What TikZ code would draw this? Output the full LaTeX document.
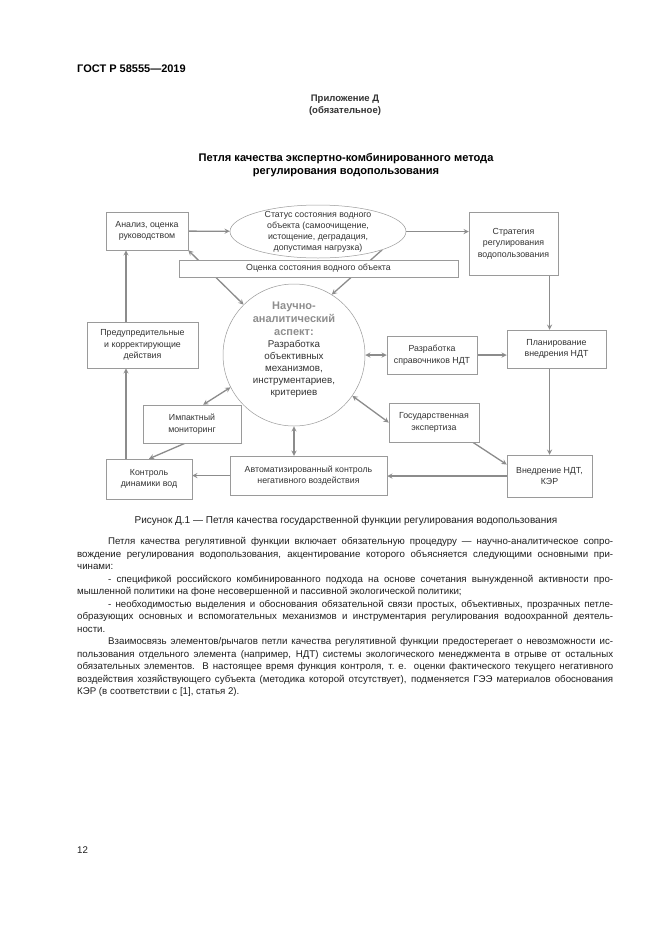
\documentclass[tikz,border=0pt]{standalone}
\usepackage{fontspec}
\setmainfont{Liberation Sans}
\usetikzlibrary{positioning,shapes.geometric,backgrounds}

\definecolor{linegray}{HTML}{9A9A9A}
\definecolor{arrowgray}{HTML}{8C8C8C}
\definecolor{inkgray}{HTML}{333333}
\definecolor{headgray}{HTML}{8E8E8E}

\newcommand{\fs}[2]{\fontsize{#1}{#2}\selectfont}
\newcommand{\jl}[1]{\makebox[536pt][s]{#1}}
\newcommand{\ind}{\hspace*{31pt}}
\newcommand{\hd}[1]{{\color{headgray}\bfseries\fs{11}{13}#1}}

\begin{document}
\begin{tikzpicture}[x=1pt, y=-1pt,
  every node/.style={inner sep=0pt, text=inkgray},
  box/.style={draw=linegray, line width=0.5pt, fill=white, align=center, font=\fs{8.8}{11.5}},
  flow/.style={->, line width=1.3pt, draw=arrowgray, >=stealth},
  both/.style={<->, line width=1.3pt, draw=arrowgray, >=stealth},
  page/.style={font=\fs{9.7}{12.5}, text=black!88}
]
\useasboundingbox (0,0) rectangle (661,935);

% page head
\node[anchor=base west, font=\bfseries\fs{11}{13}, text=black] (gost) at (77,72.5) {ГОСТ Р 58555—2019};
\node[anchor=base, font=\bfseries\fs{9.5}{12}] (app) at (345,101.5) {Приложение Д};
\node[anchor=base, font=\bfseries\fs{9.5}{12}] (appnote) at (345,113.5) {(обязательное)};
\node[anchor=base, font=\bfseries\fs{11.1}{13}, text=black] (title1) at (346,161.5) {Петля качества экспертно-комбинированного метода};
\node[anchor=base, font=\bfseries\fs{11.1}{13}, text=black] (title2) at (346,174.5) {регулирования водопользования};

% loop
\node[box, minimum width=82pt, minimum height=38pt] (anal) at (147,231) {Анализ, оценка\\руководством};
\node[box, ellipse, minimum width=176pt, minimum height=53pt,
  label={[align=center, font=\fs{8.8}{11}]center:{Статус состояния водного\\объекта (самоочищение,\\истощение, деградация,\\допустимая нагрузка)}}] (status) at (318,231.5) {};
\node[box, minimum width=89pt, minimum height=63pt] (strat) at (513.5,243.5) {Стратегия\\регулирования\\водопользования};
\node[box, minimum width=279pt, minimum height=17pt] (ocenka) at (318.5,268.5) {Оценка состояния водного объекта};
\node[box, circle, minimum size=142pt,
  label={[align=center, font=\fs{9.8}{12}, yshift=5pt]center:{\hd{Научно-}\\[1pt]\hd{аналитический}\\[1pt]\hd{аспект:}\\Разработка\\объективных\\механизмов,\\инструментариев,\\критериев}}] (aspect) at (294,355) {};
\node[box, minimum width=111pt, minimum height=46pt] (prev) at (142.5,345) {Предупредительные\\и корректирующие\\действия};
\node[box, minimum width=90pt, minimum height=38pt] (razr) at (432,355) {Разработка\\справочников НДТ};
\node[box, minimum width=99pt, minimum height=38pt] (plan) at (556.5,349) {Планирование\\внедрения НДТ};
\node[box, minimum width=98pt, minimum height=38pt] (imp) at (192,424) {Импактный\\мониторинг};
\node[box, minimum width=90pt, minimum height=39pt] (gos) at (434,422.5) {Государственная\\экспертиза};
\node[box, minimum width=86pt, minimum height=40pt] (kontr) at (149,479) {Контроль\\динамики вод};
\node[box, minimum width=157pt, minimum height=39pt] (avto) at (308.5,475.5) {Автоматизированный контроль\\негативного воздействия};
\node[box, minimum width=85pt, minimum height=42pt] (vnedr) at (549.5,476) {Внедрение НДТ,\\КЭР};
\coordinate (kup) at (126,459);

\begin{scope}[on background layer]
\fill[white] (0,0) rectangle (661,935);
\draw[flow] (anal) -- (status);
\draw[flow] (status.east) -- (status.east -| strat.west);
\draw[flow] (strat.south -| vnedr.north) -- (plan.north -| vnedr.north);
\draw[flow] (plan.south -| vnedr.north) -- (vnedr.north);
\draw[flow] (razr.east) -- (razr.east -| plan.west);
\draw[both] (aspect.east) -- (razr.west);
\draw[flow] (gos.-27) -- (vnedr.165);
\draw[both] (aspect.-35) -- (gos.west);
\draw[flow] (vnedr.west) -- (vnedr.west -| avto.east);
\draw[both] (aspect.south) -- (aspect.south |- avto.north);
\draw[flow] (avto.west) -- (avto.west -| kontr.east);
\draw[flow] (imp.-110) -- (kontr.north);
\draw[both] (aspect.207) -- (imp.60);
\draw[flow] (kup) -- (kup |- prev.south);
\draw[flow] (kup |- prev.north) -- (kup |- anal.south);
\draw[both] (anal.south east) -- (aspect.135);
\draw[flow] (status.-16) -- (aspect.58);
\end{scope}

% caption and text
\node[anchor=base, page, font=\fs{10}{12}] (caption) at (346,523.5) {Рисунок Д.1 — Петля качества государственной функции регулирования водопользования};
\node[anchor=north west, align=left, page] (body) at (77,537.4) {%
\jl{\ind Петля качества регулятивной функции включает обязательную процедуру — научно-аналитическое сопро-}\\
\jl{вождение регулирования водопользования, акцентирование которого объясняется следующими основными при-}\\
чинами:\\
\jl{\ind - спецификой российского комбинированного подхода на основе сочетания вынужденной активности про-}\\
мышленной политики на фоне несовершенной и пассивной экологической политики;\\
\jl{\ind - необходимостью выделения и обоснования обязательной связи простых, объективных, прозрачных петле-}\\
\jl{образующих основных и вспомогательных механизмов и инструментария регулирования водоохранной деятель-}\\
ности.\\
\jl{\ind Взаимосвязь элементов/рычагов петли качества регулятивной функции предостерегает о невозможности ис-}\\
\jl{пользования отдельного элемента (например, НДТ) системы экологического менеджмента в отрыве от остальных}\\
\jl{обязательных элементов. В настоящее время функция контроля, т.~е. оценки фактического текущего негативного}\\
\jl{воздействия хозяйствующего субъекта (методика которой отсутствует), подменяется ГЭЭ материалов обоснования}\\
КЭР (в соответствии с [1], статья 2).};
\node[anchor=base west, page] (pagenum) at (77,853) {12};
\end{tikzpicture}
\end{document}
